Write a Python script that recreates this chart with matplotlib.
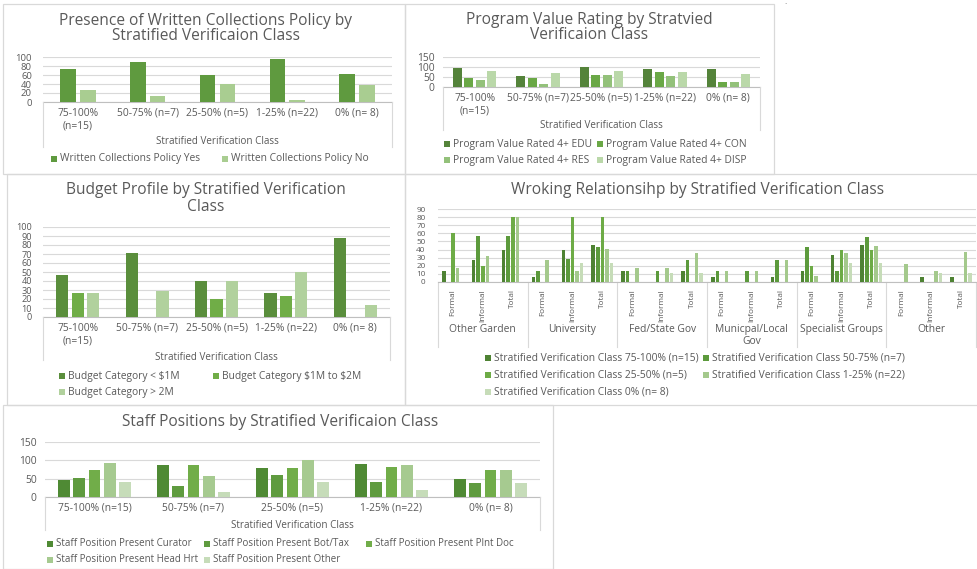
import numpy as np
import matplotlib
matplotlib.use('Agg')
import matplotlib.pyplot as plt
from matplotlib.patches import Rectangle
from matplotlib.lines import Line2D
import matplotlib.transforms as mtrans

plt.rcParams['font.family'] = ['Open Sans', 'DejaVu Sans']

# ---------------- data ----------------
classes_wrap = ['75-100%\n(n=15)', '50-75% (n=7)', '25-50% (n=5)', '1-25% (n=22)', '0% (n= 8)']
classes_flat = ['75-100% (n=15)', '50-75% (n=7)', '25-50% (n=5)', '1-25% (n=22)', '0% (n= 8)']

policy_yes = [73, 88, 60, 95, 63]
policy_no = [27, 13, 40, 5, 37]

pv_edu = [93, 57, 100, 91, 88]
pv_con = [47, 43, 60, 77, 25]
pv_res = [33, 14, 60, 55, 25]
pv_disp = [80, 71, 80, 73, 63]

budget_lt1m = [47, 71, 40, 27, 88]
budget_1to2m = [27, 0, 20, 23, 0]
budget_gt2m = [27, 29, 40, 50, 13]

rel_groups = ['Other Garden', 'University', 'Fed/State Gov', 'Municpal/Local\nGov', 'Specialist Groups', 'Other']
rel_types = ['Formal', 'Informal', 'Total']
rel_c75 = [13, 27, 40, 6, 40, 46, 13, 0, 13, 6, 0, 6, 13, 33, 46, 0, 6, 6]
rel_c50 = [0, 57, 57, 13, 28, 43, 13, 13, 27, 13, 13, 27, 43, 13, 56, 0, 0, 0]
rel_c25 = [60, 20, 80, 0, 80, 80, 0, 0, 0, 0, 0, 0, 20, 40, 40, 0, 0, 0]
rel_c1 = [17, 32, 80, 27, 13, 41, 17, 17, 36, 13, 13, 27, 8, 36, 45, 22, 13, 37]
rel_c0 = [0, 0, 0, 0, 24, 24, 0, 11, 11, 0, 0, 0, 0, 24, 24, 0, 11, 11]

staff_curator = [47, 88, 80, 91, 50]
staff_bottax = [53, 29, 60, 41, 38]
staff_plntdoc = [73, 88, 80, 82, 75]
staff_headhrt = [93, 57, 100, 86, 75]
staff_other = [40, 14, 40, 18, 38]

# ---------------- helpers ----------------
W, H = 978, 569
fig = plt.figure(figsize=(W / 100, H / 100), dpi=100)
fig.patch.set_facecolor('white')
TXT = '#595959'
GRID = '#d9d9d9'
AX = '#bfbfbf'
FS = 7.4
TFS = 11.2


def add_ax(x0, x1, ytop, ybot):
    return fig.add_axes([x0 / W, 1 - ybot / H, (x1 - x0) / W, (ybot - ytop) / H])


def ftext(x, y, s, **kw):
    kw.setdefault('color', TXT)
    kw.setdefault('ha', 'center')
    kw.setdefault('va', 'center')
    fig.text(x / W, 1 - y / H, s, **kw)


def panel(x0, y0, x1, y1):
    fig.add_artist(Rectangle((x0 / W, 1 - y1 / H), (x1 - x0) / W, (y1 - y0) / H,
                             transform=fig.transFigure, fill=False, ec='#d9d9d9', lw=0.9))


def vline_fig(x, y0, y1):
    fig.add_artist(Line2D([x / W, x / W], [1 - y0 / H, 1 - y1 / H],
                          transform=fig.transFigure, color=GRID, lw=0.8))


def legend_item(x, y, color, label, size=6, fs=FS):
    fig.add_artist(Rectangle((x / W, 1 - (y + size / 2) / H), size / W, size / H,
                             transform=fig.transFigure, color=color, lw=0))
    ftext(x + size + 3, y, label, ha='left', fontsize=fs)


def grouped_bars(ax, series, colors, ncat, overlap=-0.27, gap=2.19):
    n = len(series)
    w = 1.0 / (n - overlap * (n - 1) + gap)
    step = w * (1 - overlap)
    x = np.arange(ncat)
    for j, (vals, c) in enumerate(zip(series, colors)):
        ax.bar(x + (j - (n - 1) / 2) * step, vals, width=w, color=c, zorder=3, lw=0)
    ax.set_xlim(-0.5, ncat - 0.5)


def style_ax(ax, ymax, ystep, ypad=5, yfs=FS):
    ax.set_ylim(0, ymax)
    ax.set_yticks(np.arange(0, ymax + 0.1, ystep))
    ax.grid(axis='y', color=GRID, lw=0.8, zorder=0)
    ax.set_axisbelow(True)
    for s in ['top', 'right', 'left']:
        ax.spines[s].set_visible(False)
    ax.spines['bottom'].set_color(AX)
    ax.spines['bottom'].set_linewidth(0.8)
    ax.tick_params(axis='y', length=0, labelsize=yfs, colors=TXT, pad=ypad)
    ax.tick_params(axis='x', length=0, labelsize=FS, colors=TXT, pad=4)
    ax.set_facecolor('none')


def cat_box(ax, x0, x1, y0, y1, title, ty):
    vline_fig(x0, y0, y1)
    vline_fig(x1, y0, y1)
    ftext((x0 + x1) / 2, ty, title, fontsize=7.1)


# ---------------- panel borders ----------------
panel(3, 4, 405, 174)
panel(405, 4, 774, 174)
panel(7, 174, 405, 405)
panel(405, 174, 978, 405)
panel(3, 405, 553, 569)
ftext(786, 7, '`', fontsize=6, color='#7f7f7f')

# ---------------- P1: written policy ----------------
ftext(206, 21, 'Presence of Written Collections Policy by', fontsize=TFS)
ftext(206, 36, 'Stratified Verificaion Class', fontsize=TFS)
ax1 = add_ax(43, 392, 57, 102)
grouped_bars(ax1, [policy_yes, policy_no], ['#5f9a3f', '#a9cd91'], 5)
style_ax(ax1, 100, 20, ypad=8, yfs=6.8)
ax1.set_xticks(range(5), classes_wrap)
cat_box(ax1, 43, 392, 102, 147, 'Stratified Verification Class', 141)
legend_item(51, 159, '#5f9a3f', 'Written Collections Policy Yes')
legend_item(222, 159, '#a9cd91', 'Written Collections Policy No')

# ---------------- P2: program value ----------------
ftext(589, 20, 'Program Value Rating by Stratvied', fontsize=TFS)
ftext(589, 35, 'Verificaion Class', fontsize=TFS)
ax2 = add_ax(443, 760, 57, 87)
pv_cols = ['#54833a', '#6aa846', '#93c17a', '#bad8a9']
grouped_bars(ax2, [pv_edu, pv_con, pv_res, pv_disp], pv_cols, 5)
style_ax(ax2, 150, 50, ypad=6)
ax2.set_xticks(range(5), classes_wrap)
cat_box(ax2, 443, 760, 87, 130, 'Stratified Verification Class', 126)
legend_item(444, 144, pv_cols[0], 'Program Value Rated 4+ EDU')
legend_item(597, 144, pv_cols[1], 'Program Value Rated 4+ CON')
legend_item(444, 160, pv_cols[2], 'Program Value Rated 4+ RES')
legend_item(597, 160, pv_cols[3], 'Program Value Rated 4+ DISP')

# ---------------- P3: budget ----------------
ftext(206, 190, 'Budget Profile by Stratified Verification', fontsize=TFS)
ftext(206, 207, 'Class', fontsize=TFS)
ax3 = add_ax(43, 390, 227, 317)
bd_cols = ['#5a8e3c', '#70ad47', '#b1d19d']
grouped_bars(ax3, [budget_lt1m, budget_1to2m, budget_gt2m], bd_cols, 5)
style_ax(ax3, 100, 10, ypad=8, yfs=6.6)
ax3.set_xticks(range(5), classes_wrap)
cat_box(ax3, 43, 390, 317, 360, 'Stratified Verification Class', 357)
legend_item(59, 376, bd_cols[0], 'Budget Category < \\$1M')
legend_item(213, 376, bd_cols[1], 'Budget Category \\$1M to \\$2M')
legend_item(59, 392, bd_cols[2], 'Budget Category > 2M')

# ---------------- P4: working relationship ----------------
ftext(698, 190, 'Wroking Relationsihp by Stratified Verification Class', fontsize=TFS)
ax4 = add_ax(438, 976, 209, 282)
rel_cols = ['#4e8233', '#5c9a3c', '#6dab46', '#a4c98c', '#c6dcb8']
grouped_bars(ax4, [rel_c75, rel_c50, rel_c25, rel_c1, rel_c0], rel_cols, 18)
style_ax(ax4, 90, 10, ypad=9, yfs=5.9)
ax4.set_xticks(range(18), rel_types * 6, rotation=90, fontsize=5.9, va='top')
ax4.tick_params(axis='x', pad=5)
bt = mtrans.blended_transform_factory(ax4.transData, fig.transFigure)
for g in range(7):
    xg = g * 3 - 0.5
    ax4.add_artist(Line2D([xg, xg], [1 - 282 / H, 1 - 347 / H], transform=bt,
                          color=GRID, lw=0.8, clip_on=False))
for g, name in enumerate(rel_groups):
    ax4.text(g * 3 + 1, 1 - 324 / H, name, transform=bt, ha='center', va='top',
             fontsize=FS, color=TXT, linespacing=1.15, clip_on=False)
legend_item(485, 358, rel_cols[0], 'Stratified Verification Class 75-100% (n=15)')
legend_item(703, 358, rel_cols[1], 'Stratified Verification Class 50-75% (n=7)')
legend_item(485, 375, rel_cols[2], 'Stratified Verification Class 25-50% (n=5)')
legend_item(703, 375, rel_cols[3], 'Stratified Verification Class 1-25% (n=22)')
legend_item(485, 392, rel_cols[4], 'Stratified Verification Class 0% (n= 8)')

# ---------------- P5: staff positions ----------------
ftext(280, 422, 'Staff Positions by Stratified Verificaion Class', fontsize=TFS)
ax5 = add_ax(45, 540, 442, 497)
st_cols = ['#4f8a34', '#5f9b3f', '#71ad49', '#a6ca90', '#c6dcb9']
grouped_bars(ax5, [staff_curator, staff_bottax, staff_plntdoc, staff_headhrt, staff_other], st_cols, 5)
style_ax(ax5, 150, 50, ypad=6)
ax5.set_xticks(range(5), classes_flat)
cat_box(ax5, 45, 540, 497, 530, 'Stratified Verification Class', 525)
legend_item(47, 544, st_cols[0], 'Staff Position Present Curator', fs=7.0)
legend_item(204, 544, st_cols[1], 'Staff Position Present Bot/Tax', fs=7.0)
legend_item(366, 544, st_cols[2], 'Staff Position Present Plnt Doc', fs=7.0)
legend_item(47, 560, st_cols[3], 'Staff Position Present Head Hrt', fs=7.0)
legend_item(204, 560, st_cols[4], 'Staff Position Present Other', fs=7.0)

fig.savefig('out.png', dpi=100, facecolor='white')
